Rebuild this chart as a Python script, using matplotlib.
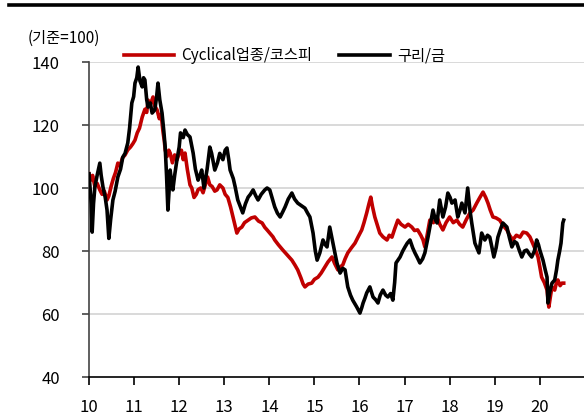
import matplotlib
matplotlib.use("Agg")
import matplotlib.pyplot as plt
from matplotlib.lines import Line2D

plt.rcParams['font.family'] = ['Noto Sans CJK KR', 'DejaVu Sans']

# Cyclical업종/코스피 (기준=100): (year, value)
red_pts = [
    (2010.00, 104.5), (2010.04, 102.5), (2010.08, 104.0), (2010.13, 100.5), (2010.18, 101.5),
    (2010.24, 99.4), (2010.29, 98.0), (2010.34, 99.0), (2010.40, 96.2), (2010.44, 97.5),
    (2010.49, 100.5), (2010.54, 103.0), (2010.59, 105.0), (2010.64, 107.9), (2010.69, 107.0),
    (2010.74, 109.5), (2010.80, 110.5), (2010.86, 112.1), (2010.92, 113.0), (2010.97, 114.0),
    (2011.02, 115.2), (2011.07, 117.5), (2011.12, 119.0), (2011.18, 122.5), (2011.24, 125.0),
    (2011.28, 124.0), (2011.31, 127.9), (2011.36, 126.5), (2011.42, 128.9), (2011.46, 126.0),
    (2011.51, 124.8), (2011.56, 122.0), (2011.60, 123.5), (2011.64, 118.0), (2011.67, 115.0),
    (2011.69, 112.1), (2011.73, 110.0), (2011.77, 112.0), (2011.80, 111.1), (2011.85, 108.0),
    (2011.90, 110.5), (2011.95, 108.9), (2012.00, 111.0), (2012.05, 112.0), (2012.09, 109.0),
    (2012.13, 111.1), (2012.18, 106.0), (2012.24, 101.0), (2012.28, 100.0), (2012.33, 97.0),
    (2012.38, 98.0), (2012.42, 99.5), (2012.48, 100.0), (2012.53, 98.5), (2012.58, 101.0),
    (2012.63, 103.5), (2012.68, 101.0), (2012.73, 100.5), (2012.79, 99.0), (2012.84, 99.4),
    (2012.90, 101.0), (2012.97, 100.0), (2013.02, 98.0), (2013.08, 97.0), (2013.14, 94.0),
    (2013.19, 91.0), (2013.24, 88.0), (2013.28, 85.7), (2013.33, 87.0), (2013.39, 87.6),
    (2013.45, 89.0), (2013.53, 89.8), (2013.60, 90.5), (2013.68, 90.8), (2013.76, 89.5),
    (2013.84, 88.9), (2013.90, 87.5), (2013.95, 86.7), (2014.02, 85.5), (2014.08, 84.5),
    (2014.12, 83.5), (2014.20, 82.0), (2014.30, 80.3), (2014.38, 79.0), (2014.44, 78.0),
    (2014.50, 77.1), (2014.57, 75.5), (2014.63, 74.0), (2014.70, 71.5), (2014.75, 69.5),
    (2014.79, 68.6), (2014.86, 69.5), (2014.94, 69.8), (2015.00, 71.0), (2015.08, 71.7),
    (2015.15, 73.0), (2015.23, 74.9), (2015.30, 76.5), (2015.39, 78.1), (2015.45, 76.0),
    (2015.52, 74.0), (2015.58, 75.0), (2015.63, 75.6), (2015.68, 77.5), (2015.74, 79.4),
    (2015.82, 81.0), (2015.90, 82.5), (2015.97, 84.5), (2016.05, 86.7), (2016.10, 89.0),
    (2016.16, 92.1), (2016.21, 95.0), (2016.25, 97.1), (2016.29, 94.0), (2016.34, 90.8),
    (2016.40, 88.0), (2016.45, 85.7), (2016.52, 84.5), (2016.61, 83.5), (2016.66, 85.0),
    (2016.72, 84.4), (2016.78, 87.0), (2016.85, 89.8), (2016.92, 88.5), (2017.01, 87.6),
    (2017.08, 88.5), (2017.16, 87.6), (2017.22, 86.5), (2017.29, 86.7), (2017.36, 85.0),
    (2017.41, 83.5), (2017.45, 81.3), (2017.50, 85.0), (2017.56, 89.8), (2017.64, 89.0),
    (2017.72, 90.8), (2017.78, 88.5), (2017.85, 86.7), (2017.92, 89.0), (2018.00, 90.8),
    (2018.08, 89.0), (2018.16, 89.8), (2018.22, 88.5), (2018.29, 87.6), (2018.37, 90.0),
    (2018.45, 92.1), (2018.52, 93.0), (2018.60, 95.2), (2018.67, 97.0), (2018.74, 98.7),
    (2018.80, 97.0), (2018.85, 95.2), (2018.90, 93.0), (2018.96, 90.8), (2019.03, 90.5),
    (2019.11, 89.8), (2019.19, 88.0), (2019.27, 86.7), (2019.33, 85.0), (2019.40, 83.5),
    (2019.48, 85.0), (2019.56, 84.4), (2019.63, 86.0), (2019.71, 85.7), (2019.78, 84.5),
    (2019.84, 82.5), (2019.90, 80.5), (2019.96, 78.1), (2020.00, 75.0), (2020.04, 71.7),
    (2020.10, 70.0), (2020.16, 67.6), (2020.20, 62.2), (2020.24, 66.0), (2020.27, 68.6),
    (2020.33, 67.6), (2020.37, 70.0), (2020.40, 70.8), (2020.45, 69.0), (2020.49, 69.8),
    (2020.53, 69.8),
]

# 구리/금 (기준=100): (year, value)
blk_pts = [
    (2010.00, 104.5), (2010.03, 99.0), (2010.05, 95.0), (2010.07, 86.0), (2010.10, 95.0),
    (2010.13, 100.3), (2010.18, 104.0), (2010.24, 107.9), (2010.27, 104.0), (2010.31, 100.3),
    (2010.36, 97.0), (2010.40, 93.0), (2010.44, 84.0), (2010.48, 90.0), (2010.53, 96.2),
    (2010.58, 99.0), (2010.64, 103.5), (2010.70, 106.0), (2010.75, 109.8), (2010.80, 111.0),
    (2010.86, 114.3), (2010.90, 119.0), (2010.95, 127.0), (2010.99, 129.0), (2011.02, 133.3),
    (2011.06, 135.0), (2011.09, 138.4), (2011.13, 134.0), (2011.18, 132.1), (2011.21, 135.0),
    (2011.24, 134.3), (2011.28, 128.0), (2011.31, 125.7), (2011.36, 127.0), (2011.40, 123.8),
    (2011.46, 124.8), (2011.50, 129.0), (2011.53, 133.3), (2011.57, 128.0), (2011.62, 123.8),
    (2011.66, 118.0), (2011.69, 113.0), (2011.72, 104.0), (2011.75, 93.0), (2011.78, 100.0),
    (2011.80, 105.7), (2011.83, 102.0), (2011.86, 99.4), (2011.90, 104.0), (2011.95, 108.9),
    (2012.00, 113.0), (2012.03, 117.5), (2012.09, 116.0), (2012.13, 118.4), (2012.18, 117.0),
    (2012.24, 116.2), (2012.31, 111.1), (2012.36, 106.0), (2012.42, 102.5), (2012.46, 104.0),
    (2012.50, 105.7), (2012.55, 100.0), (2012.62, 106.0), (2012.68, 113.0), (2012.72, 111.0),
    (2012.79, 105.7), (2012.85, 108.0), (2012.90, 111.0), (2012.97, 109.0), (2013.02, 112.0),
    (2013.06, 112.7), (2013.10, 109.0), (2013.13, 105.7), (2013.20, 103.0), (2013.24, 100.5),
    (2013.30, 96.2), (2013.36, 94.0), (2013.41, 92.1), (2013.47, 95.0), (2013.53, 97.1),
    (2013.58, 98.0), (2013.64, 99.4), (2013.70, 97.5), (2013.75, 96.2), (2013.82, 98.0),
    (2013.90, 99.4), (2013.95, 100.0), (2014.01, 99.4), (2014.06, 97.0), (2014.12, 94.0),
    (2014.18, 92.0), (2014.24, 90.8), (2014.30, 92.5), (2014.35, 94.0), (2014.42, 96.5),
    (2014.50, 98.4), (2014.56, 96.5), (2014.63, 95.2), (2014.70, 94.5), (2014.79, 93.6),
    (2014.85, 92.0), (2014.90, 90.8), (2014.97, 85.7), (2015.02, 80.0), (2015.06, 77.1),
    (2015.12, 79.4), (2015.19, 83.5), (2015.24, 82.0), (2015.28, 81.3), (2015.34, 87.6),
    (2015.41, 82.5), (2015.46, 79.0), (2015.50, 76.2), (2015.57, 73.0), (2015.63, 74.5),
    (2015.68, 74.0), (2015.74, 68.6), (2015.80, 66.0), (2015.85, 64.4), (2015.94, 62.2),
    (2016.01, 60.3), (2016.05, 62.0), (2016.08, 63.5), (2016.12, 65.0), (2016.16, 66.7),
    (2016.23, 68.6), (2016.30, 65.4), (2016.36, 64.5), (2016.41, 63.5), (2016.46, 66.0),
    (2016.52, 67.6), (2016.58, 66.0), (2016.63, 65.4), (2016.69, 66.5), (2016.74, 64.4),
    (2016.78, 70.0), (2016.81, 76.2), (2016.90, 78.1), (2016.96, 80.0), (2017.01, 81.3),
    (2017.06, 82.5), (2017.12, 83.5), (2017.18, 81.0), (2017.23, 79.4), (2017.28, 78.0),
    (2017.34, 76.2), (2017.40, 77.5), (2017.45, 79.4), (2017.52, 84.4), (2017.58, 89.0),
    (2017.63, 93.0), (2017.68, 90.0), (2017.72, 88.9), (2017.78, 96.2), (2017.85, 90.8),
    (2017.91, 94.0), (2017.96, 98.4), (2018.01, 97.0), (2018.05, 95.2), (2018.12, 96.2),
    (2018.18, 90.8), (2018.23, 93.0), (2018.27, 95.2), (2018.34, 92.1), (2018.40, 100.0),
    (2018.45, 93.0), (2018.49, 88.9), (2018.56, 82.5), (2018.65, 79.4), (2018.71, 85.7),
    (2018.78, 83.5), (2018.84, 85.0), (2018.89, 84.4), (2018.94, 81.0), (2018.98, 78.1),
    (2019.03, 81.0), (2019.07, 84.4), (2019.13, 87.0), (2019.18, 88.9), (2019.27, 87.6),
    (2019.33, 84.0), (2019.38, 81.3), (2019.44, 83.0), (2019.49, 82.5), (2019.55, 80.0),
    (2019.60, 78.1), (2019.66, 80.0), (2019.71, 80.3), (2019.77, 79.0), (2019.82, 78.1),
    (2019.88, 80.0), (2019.93, 83.5), (2019.97, 82.0), (2020.00, 80.3), (2020.07, 77.1),
    (2020.12, 74.0), (2020.16, 71.7), (2020.18, 63.5), (2020.22, 67.0), (2020.27, 69.8),
    (2020.33, 70.8), (2020.37, 74.0), (2020.40, 77.1), (2020.44, 80.0), (2020.47, 82.5),
    (2020.51, 88.9), (2020.53, 89.8),
]

year_ticks = list(range(2010, 2021))
year_labels = [str(y - 2000) for y in year_ticks]
y_ticks = [40, 60, 80, 100, 120, 140]

red_t, red_v = zip(*red_pts)
blk_t, blk_v = zip(*blk_pts)

fig = plt.figure(figsize=(5.84, 4.17), dpi=100)
ax = fig.add_axes([0.1524, 0.0959, 0.8476, 0.7554])

ax.plot(red_t, red_v, color='#C00000', lw=2.6, label='Cyclical업종/코스피', zorder=3)
ax.plot(blk_t, blk_v, color='black', lw=2.6, label='구리/금', zorder=4)

ax.set_xlim(2010, 2020.98)
ax.set_ylim(40, 140)
ax.set_xticks(year_ticks)
ax.set_xticklabels(year_labels)
ax.set_yticks(y_ticks)

for v in y_ticks[1:]:
    ax.axhline(v, color='#d9d9d9', lw=1.4, zorder=1)

for s in ['top', 'right']:
    ax.spines[s].set_visible(False)
ax.spines['left'].set_color('#444444')
ax.spines['left'].set_linewidth(1.2)
ax.spines['bottom'].set_linewidth(1.2)
ax.tick_params(axis='y', direction='out', length=5, width=1.2, pad=16, labelsize=12,
               colors='#444444', labelcolor='black')
ax.tick_params(axis='x', direction='out', length=6, width=1.2, pad=10, labelsize=12)

fig.legend(loc='center left', bbox_to_anchor=(0.212, 0.866), ncol=2, frameon=False,
           fontsize=11, handlelength=3.3, handletextpad=0.45, columnspacing=1.8,
           borderpad=0, borderaxespad=0)

fig.text(0.048, 0.909, '(기준=100)', fontsize=11, va='center', ha='left')

# thick rule across the top of the figure
fig.add_artist(Line2D([9 / 584, 1.0], [1 - 5 / 417, 1 - 5 / 417], color='black', lw=2.6))

fig.savefig('out.png', dpi=100)
